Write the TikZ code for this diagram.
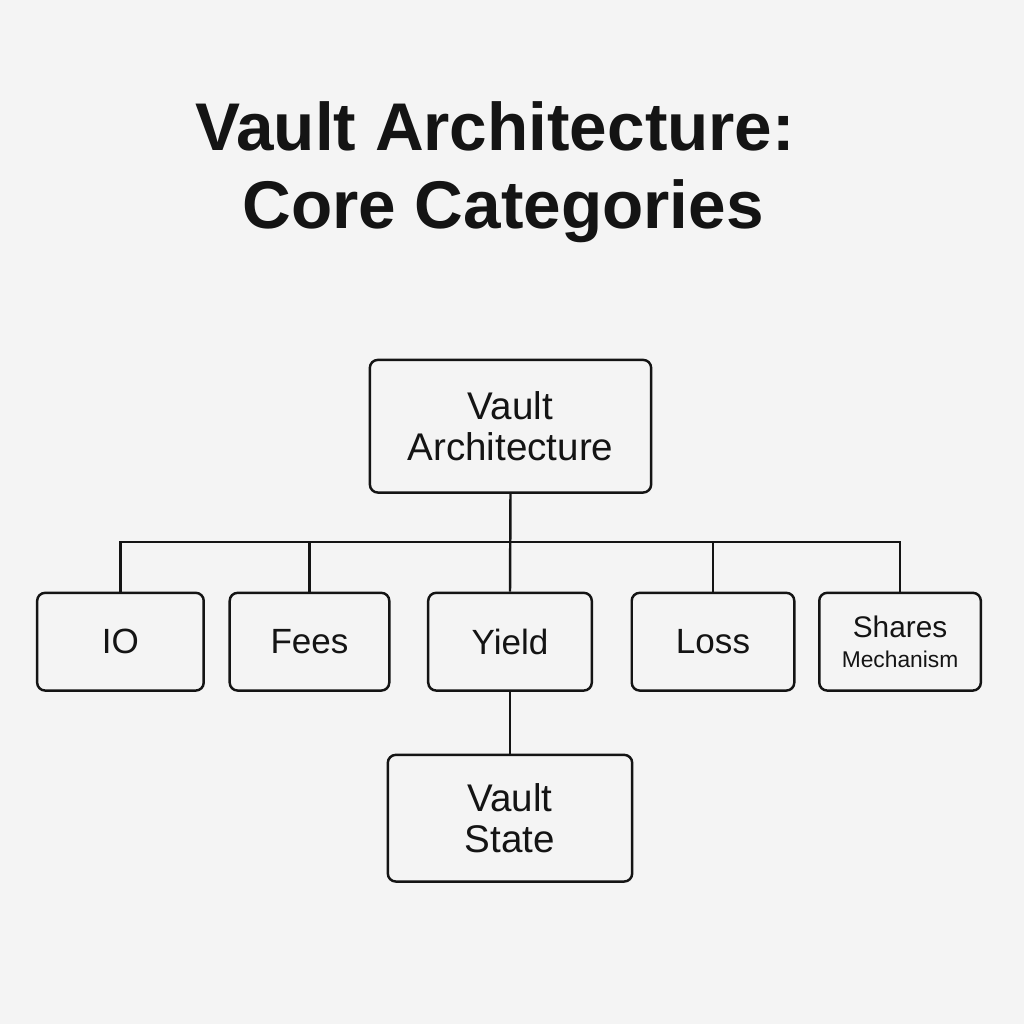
\documentclass[tikz,border=0pt]{standalone}
\usepackage{fontspec}
\setmainfont{Liberation Sans}
\usetikzlibrary{positioning}
\definecolor{bgcol}{HTML}{F4F4F4}
\definecolor{ink}{HTML}{141414}
\tikzset{
  every path/.append style={line width=1.4pt,draw=ink},
  box/.style={rectangle,draw,rounded corners=0.16cm,fill=bgcol,text=ink,
    align=center,inner sep=0pt,minimum width=#1,minimum height=1.96cm,
    font=\fontsize{20}{22}\selectfont},
  title/.style={anchor=base,text=ink,font=\fontsize{38.5}{44}\selectfont\bfseries}
}
\begin{document}
\begin{tikzpicture}[x=0.02cm,y=-0.02cm]
  \fill[bgcol] (0,0) rectangle (1024,1024);
  \node (title1) [title] at (495,150) {Vault Architecture:};
  \node (title2) [title] at (503,228) {Core Categories};
  \node (vault) [box=5.64cm,minimum height=2.66cm,
    font=\fontsize{22}{23}\selectfont] at (510.5,426) {Vault\\Architecture};
  \node (io) [box=3.34cm] at (119.5,642) {IO};
  \node (fees) [box=3.2cm] at (309,642) {Fees};
  \node (yield) [box=3.28cm] at (510,642) {Yield};
  \node (loss) [box=3.26cm] at (713.5,642) {Loss};
  \node (shares) [box=3.24cm] at (901,642)
    {\fontsize{17}{18}\selectfont Shares\\[-5pt]\fontsize{13}{14}\selectfont Mechanism};
  \node (state) [box=4.9cm,minimum height=2.54cm,below=1.24cm of yield,
    font=\fontsize{22}{23}\selectfont] {Vault\\State};
  \coordinate (bus) at (510.5,542);
  % tree connectors
  \draw (vault.south) -- (yield.north);
  \draw (io.north) |- (bus) -| (shares.north);
  \draw (fees.north) -- (fees.north |- bus);
  \draw (loss.north) -- (loss.north |- bus);
  \draw (yield.south) -- (state.north);
\end{tikzpicture}
\end{document}
